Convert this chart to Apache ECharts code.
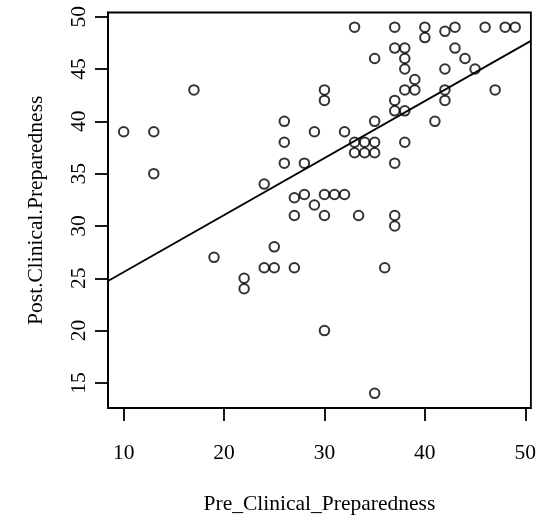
<!DOCTYPE html>
<html>
<head>
<meta charset="utf-8">
<script src="https://cdn.jsdelivr.net/npm/echarts@6/dist/echarts.min.js"></script>
<style>
  html, body { margin: 0; padding: 0; background: #fff; }
  #chart { width: 539px; height: 520px; }
</style>
</head>
<body>
<div id="chart"></div>
<script>
// pre / post scores
var preScores = [10, 13, 13, 17, 19, 22, 22, 24, 24, 25, 25, 26, 26, 26, 27, 27, 27, 28, 28, 29,
  29, 30, 30, 30, 30, 30, 31, 32, 32, 33, 33, 33, 33.4, 34, 34, 35, 35, 35, 35, 35,
  36, 37, 37, 37, 37, 37, 37, 37, 38, 38, 38, 38, 38, 38, 39, 39, 40, 40, 41, 42,
  42, 42, 42, 43, 43, 44, 45, 46, 47, 48, 49]
var postScores = [39, 39, 35, 43, 27, 25, 24, 34, 26, 28, 26, 40, 38, 36, 32.7, 31, 26, 36, 33, 39,
  32, 43, 42, 33, 31, 20, 33, 39, 33, 49, 38, 37, 31, 38, 37, 46, 40, 38, 37, 14,
  26, 49, 47, 42, 41, 36, 31, 30, 47, 46, 45, 43, 41, 38, 44, 43, 49, 48, 40, 48.6,
  45, 43, 42, 49, 47, 46, 45, 49, 43, 49, 49]
var xTicks = [10, 20, 30, 40, 50]
var yTicks = [15, 20, 25, 30, 35, 40, 45, 50]

// abline coefficients (some points overlap, so
// refitting the visible points gives a slightly flatter line)
var fitIntercept = 20.13
var fitSlope = 0.545

// R style axis limits: data range widened by 4%
var xMin = 8.44, xMax = 50.56
var yMin = 12.6, yMax = 50.4

var points = preScores.map(function (x, i) { return [x, postScores[i]] })
var lineData = [xMin, xMax].map(function (x) { return [x, fitIntercept + fitSlope * x] })

var font = 'Liberation Serif'
var chart = echarts.init(document.getElementById('chart'))
chart.setOption({
  animation: false,
  grid: {
    left: 108,
    right: 8,
    top: 12.5,
    bottom: 109.5,
    show: true,
    borderColor: '#000',
    borderWidth: 1.8,
    backgroundColor: 'transparent'
  },
  xAxis: {
    type: 'value',
    min: xMin,
    max: xMax,
    name: 'Pre_Clinical_Preparedness',
    nameLocation: 'middle',
    nameGap: 85,
    nameTextStyle: { fontFamily: font, fontSize: 21.5, color: '#000' },
    axisLine: { show: true, lineStyle: { color: '#000', width: 1.8 } },
    axisTick: { show: true, length: 13, customValues: xTicks, lineStyle: { color: '#000', width: 1.8 } },
    axisLabel: { customValues: xTicks, margin: 34, fontFamily: font, fontSize: 21.5, color: '#000' },
    splitLine: { show: false }
  },
  yAxis: {
    type: 'value',
    min: yMin,
    max: yMax,
    name: 'Post.Clinical.Preparedness',
    nameLocation: 'middle',
    nameGap: 61,
    nameTextStyle: { fontFamily: font, fontSize: 21.5, color: '#000' },
    axisLine: { show: true, lineStyle: { color: '#000', width: 1.8 } },
    axisTick: { show: true, length: 13, customValues: yTicks, lineStyle: { color: '#000', width: 1.8 } },
    axisLabel: { customValues: yTicks, rotate: 90, margin: 18, fontFamily: font, fontSize: 21.5, color: '#000' },
    splitLine: { show: false }
  },
  series: [
    {
      type: 'scatter',
      data: points,
      symbol: 'circle',
      symbolSize: 9.5,
      itemStyle: { color: 'rgba(0,0,0,0)', borderColor: '#000', borderWidth: 2 }
    },
    {
      type: 'line',
      data: lineData,
      symbol: 'none',
      lineStyle: { color: '#000', width: 1.8 },
      z: 3
    }
  ]
})
</script>
</body>
</html>
